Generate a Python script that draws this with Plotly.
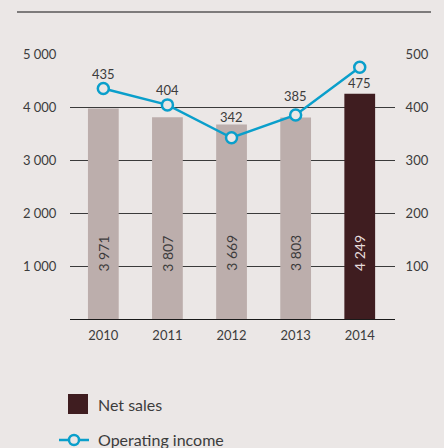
import plotly.graph_objects as go

# Data
years = ["2010", "2011", "2012", "2013", "2014"]
net_sales = [3971, 3807, 3669, 3803, 4249]
operating_income = [435, 404, 342, 385, 475]
left_ticks = [1000, 2000, 3000, 4000, 5000]
right_ticks = [100, 200, 300, 400, 500]

# Styling
BG = "#ebe7e6"
BAR_LIGHT = "#bcaeac"
BAR_DARK = "#3f1d20"
LINE = "#0a9fcb"
TEXT = "#3c3c3c"
FONT = "Lato"

bar_colors = [BAR_LIGHT] * (len(years) - 1) + [BAR_DARK]
inbar_text_colors = [TEXT] * (len(years) - 1) + ["#e6dcdc"]
label_shift = [14, 15, 21, 19, -16]


def fmt(v):
    return f"{v:,}".replace(",", " ")


fig = go.Figure()

fig.add_trace(go.Bar(
    x=years, y=net_sales, marker=dict(color=bar_colors, line=dict(width=0)),
    width=0.48, name="Net sales", showlegend=False, yaxis="y",
))

fig.add_trace(go.Scatter(
    x=years, y=operating_income, mode="lines+markers", name="Operating income",
    line=dict(color=LINE, width=2.5),
    marker=dict(size=11, color=BG, line=dict(color=LINE, width=2.5)),
    yaxis="y2", showlegend=False, cliponaxis=False,
))

annotations = []
# vertical value labels inside the bars (x given as category index)
for i, (v, c) in enumerate(zip(net_sales, inbar_text_colors)):
    annotations.append(dict(
        x=i, y=1240, xref="x", yref="y", text=fmt(v), textangle=-90,
        showarrow=False, font=dict(family=FONT, size=14, color=c),
    ))
# operating income labels
for i, (v, s) in enumerate(zip(operating_income, label_shift)):
    annotations.append(dict(
        x=i, y=v, xref="x", yref="y2", text=str(v), yshift=s,
        showarrow=False, font=dict(family=FONT, size=13, color=TEXT),
    ))

# legend, drawn by hand
W, H = 325.0, 265.0
def px(x):
    return (x - 70) / W
def py(y):
    return (319 - y) / H

annotations += [
    dict(x=px(96), y=py(404), xref="paper", yref="paper", text="Net sales",
         xanchor="left", yanchor="middle", showarrow=False,
         font=dict(family=FONT, size=16, color=TEXT)),
    dict(x=px(96), y=py(439), xref="paper", yref="paper", text="Operating income",
         xanchor="left", yanchor="middle", showarrow=False,
         font=dict(family=FONT, size=16, color=TEXT)),
]

shapes = [
    # top rule
    dict(type="line", xref="paper", yref="paper", x0=px(17), x1=px(431),
         y0=py(12), y1=py(12), line=dict(color="#111111", width=1.2)),
    # legend swatch
    dict(type="rect", xref="paper", yref="paper", x0=px(68), x1=px(88),
         y0=py(414), y1=py(394), fillcolor=BAR_DARK, line=dict(width=0)),
    dict(type="line", xref="paper", yref="paper", x0=px(59), x1=px(89),
         y0=py(440), y1=py(440), line=dict(color=LINE, width=2.5)),
    dict(type="circle", xref="paper", yref="paper", x0=px(69), x1=px(79),
         y0=py(445), y1=py(435), fillcolor=BG, line=dict(color=LINE, width=2.5)),
]

fig.update_layout(
    width=444, height=448,
    margin=dict(l=70, r=49, t=54, b=129),
    paper_bgcolor=BG, plot_bgcolor=BG,
    separators=". ",
    font=dict(family=FONT, size=13, color=TEXT),
    bargap=0.52,
    xaxis=dict(
        type="category",
        range=[-0.52, 4.55], showgrid=False, showline=False, zeroline=False,
        ticks="outside", ticklen=4, tickcolor="rgba(0,0,0,0)",
        tickfont=dict(family=FONT, size=13, color=TEXT),
    ),
    yaxis=dict(
        range=[0, 5000], tickvals=left_ticks, tickformat=",d",
        showgrid=True, gridcolor="#3a3a3a", gridwidth=1,
        zeroline=True, zerolinecolor="#1a1a1a", zerolinewidth=1.2,
        showline=False, ticks="outside", ticklen=10, tickcolor="rgba(0,0,0,0)",
        tickfont=dict(family=FONT, size=13, color=TEXT),
    ),
    yaxis2=dict(
        range=[0, 500], tickvals=right_ticks, overlaying="y", side="right",
        showgrid=False, zeroline=False, showline=False,
        ticks="outside", ticklen=7, tickcolor="rgba(0,0,0,0)",
        tickfont=dict(family=FONT, size=13, color=TEXT),
    ),
    annotations=annotations,
    shapes=shapes,
    showlegend=False,
)

fig.write_html("out.html")
